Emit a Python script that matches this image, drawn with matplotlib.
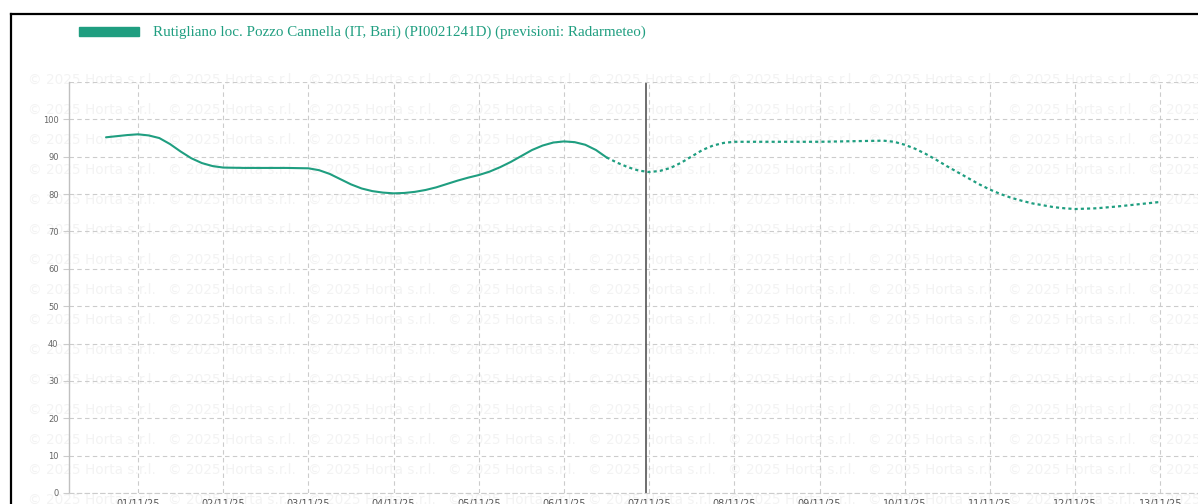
import matplotlib.pyplot as plt
from matplotlib.lines import Line2D

W, H = 1198, 504
teal = '#1f9e80'

# hours counted from 01/11/25 00:00
obs_hours = [-9, -6, -3, 0, 3, 6, 9, 12, 15, 18, 21, 24, 30, 36, 42, 48, 51, 54, 57, 60,
             63, 66, 69, 72, 75, 78, 81, 84, 87, 90, 93, 96, 99, 102, 105, 108, 111, 114,
             117, 120, 123, 126, 129, 132]
obs_vals = [95.2, 95.5, 95.8, 96.0, 95.7, 95.0, 93.4, 91.4, 89.6, 88.3, 87.5, 87.1, 87.0,
            87.0, 87.0, 86.9, 86.4, 85.4, 84.0, 82.6, 81.5, 80.8, 80.4, 80.2, 80.3, 80.6,
            81.1, 81.8, 82.7, 83.6, 84.4, 85.1, 86.0, 87.2, 88.6, 90.2, 91.8, 93.0, 93.8,
            94.1, 93.9, 93.2, 91.8, 89.8]

fc_hours = [132, 135, 138, 141, 144, 147, 150, 153, 156, 159, 162, 165, 168, 174, 180, 186,
            192, 198, 204, 210, 213, 216, 219, 222, 225, 228, 231, 234, 237, 240, 243, 246,
            249, 252, 255, 258, 261, 264, 270, 276, 282, 288]
fc_vals = [89.8, 88.4, 87.2, 86.3, 85.9, 86.2, 87.0, 88.4, 90.1, 91.8, 93.0, 93.7, 94.0,
           94.0, 94.0, 94.0, 94.0, 94.1, 94.2, 94.3, 94.0, 93.2, 92.1, 90.7, 89.1, 87.4,
           85.8, 84.2, 82.6, 81.2, 80.0, 79.0, 78.2, 77.5, 77.0, 76.5, 76.2, 76.0, 76.2,
           76.7, 77.3, 77.9]

now_hour = 143
tick_hours = [24 * i for i in range(13)]
tick_labels = ['%02d/11/25' % (i + 1) for i in range(13)]
legend_label = 'Rutigliano loc. Pozzo Cannella (IT, Bari) (PI0021241D) (previsioni: Radarmeteo)'

fig = plt.figure(figsize=(W / 100, H / 100), dpi=100)

# watermark
for r in range(15):
    for c in range(9):
        fig.text((28 + 140 * c) / W, 1 - (80 + 30 * r) / H, '\u00a9 2025 Horta s.r.l.',
                 fontsize=9.8, color='#f3f3f3', va='center', ha='left', zorder=-1)

px_per_h = 85.2 / 24
x0 = (69 - 138) / px_per_h
x1 = (1198 - 138) / px_per_h
ax = fig.add_axes([69 / W, (H - 493) / H, (W - 69) / W, (493 - 82) / H])
ax.set_facecolor('none')
ax.set_xlim(x0, x1)
ax.set_ylim(0, 110)

ax.plot(obs_hours, obs_vals, color=teal, lw=1.5, solid_capstyle='round',
        solid_joinstyle='round')
ax.plot(fc_hours, fc_vals, color=teal, lw=1.6, linestyle=(0, (1.4, 1.4)))
ax.axvline(now_hour, color='#555555', lw=1.2)

ax.set_xticks(tick_hours)
ax.set_xticklabels(tick_labels)
ax.set_yticks(range(0, 101, 10))
ax.tick_params(axis='x', length=0, pad=4, labelsize=7, labelcolor='#555555')
ax.tick_params(axis='y', length=4.5, width=0.8, color='#cccccc', pad=3, labelsize=6,
               labelcolor='#666666')
ax.grid(True, color='#cccccc', linestyle=(0, (4, 3)), lw=0.8)
ax.axhline(110, color='#cccccc', linestyle=(0, (4, 3)), lw=0.8)
for s in ['top', 'right']:
    ax.spines[s].set_visible(False)
ax.spines['bottom'].set_color('#cccccc')
ax.spines['bottom'].set_linestyle((0, (4, 3)))
ax.spines['bottom'].set_linewidth(0.8)
ax.spines['left'].set_color('#c0c0c0')
ax.spines['left'].set_linewidth(1.0)

# legend
fig.patches.append(plt.Rectangle((79 / W, 1 - 36 / H), 60 / W, 9 / H, transform=fig.transFigure,
                                 color=teal, figure=fig))
fig.text(153 / W, 1 - 32.5 / H, legend_label, fontsize=10.8, family='Liberation Serif',
         color=teal, va='center', ha='left')

# frame
fig.add_artist(Line2D([11 / W, 11 / W], [0, 1 - 13.7 / H], color='black', lw=1.6))
fig.add_artist(Line2D([11 / W, 1], [1 - 13.7 / H, 1 - 13.7 / H], color='black', lw=1.6))

fig.savefig('out.png', dpi=100)
